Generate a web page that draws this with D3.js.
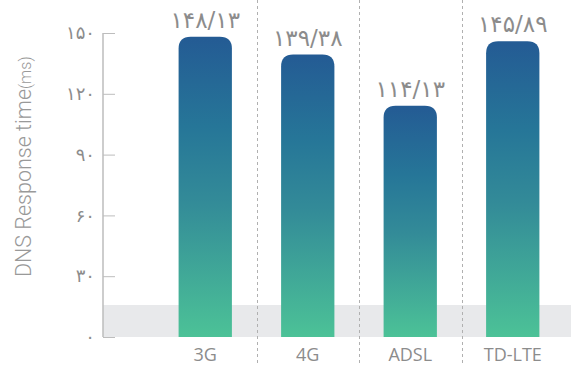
<!DOCTYPE html>
<html>
<head>
<meta charset="utf-8">
<script src="https://cdn.jsdelivr.net/npm/d3@7"></script>
<style>
  html, body { margin: 0; padding: 0; background: #fff; }
  svg { display: block; }
</style>
</head>
<body>
<svg id="chart" width="571" height="365"></svg>
<script>
const categories = ["3G", "4G", "ADSL", "TD-LTE"];
const values = [148.13, 139.38, 114.13, 145.89];
const valueLabels = ["۱۴۸/۱۳", "۱۳۹/۳۸", "۱۱۴/۱۳", "۱۴۵/۸۹"];
const tickValues = [0, 30, 60, 90, 120, 150];
const tickLabels = ["۰", "۳۰", "۶۰", "۹۰", "۱۲۰", "۱۵۰"];
const bandMax = 15.8;
const yTitle = "DNS Response time";
const yTitleUnit = "(ms)";

const W = 571, H = 365;
const svg = d3.select("#chart");

const y = d3.scaleLinear().domain([0, 150]).range([337, 33]);
const x = d3.scaleBand().domain(categories).range([154, 564]).paddingInner(0.48).paddingOuter(0.24);

// gradient
const defs = svg.append("defs");
const grad = defs.append("linearGradient").attr("id", "barGrad")
  .attr("x1", 0).attr("y1", 0).attr("x2", 0).attr("y2", 1);
grad.append("stop").attr("offset", "0%").attr("stop-color", "#245b94");
grad.append("stop").attr("offset", "30%").attr("stop-color", "#267698");
grad.append("stop").attr("offset", "55%").attr("stop-color", "#338b98");
grad.append("stop").attr("offset", "100%").attr("stop-color", "#4cc297");

// gray band
svg.append("rect")
  .attr("x", 103).attr("width", W - 103)
  .attr("y", y(bandMax)).attr("height", y(0) - y(bandMax))
  .attr("fill", "#e8e9eb");

// dashed separators
const step = x.step();
svg.append("g").selectAll("line")
  .data(categories.slice(1))
  .join("line")
  .attr("x1", d => Math.round(x(d) - step * x.paddingInner() / 2) + 0.5)
  .attr("x2", d => Math.round(x(d) - step * x.paddingInner() / 2) + 0.5)
  .attr("y1", 0).attr("y2", H)
  .attr("stroke", "#b0b0b0").attr("stroke-width", 1)
  .attr("stroke-dasharray", "3,3");

// bars with rounded top corners
const r = 12;
function barPath(x0, w, yt, yb) {
  return `M${x0},${yb} L${x0},${yt + r} Q${x0},${yt} ${x0 + r},${yt} L${x0 + w - r},${yt} Q${x0 + w},${yt} ${x0 + w},${yt + r} L${x0 + w},${yb} Z`;
}
svg.append("g").selectAll("path")
  .data(categories)
  .join("path")
  .attr("d", (d, i) => barPath(x(d), x.bandwidth(), y(values[i]), y(0)))
  .attr("fill", "url(#barGrad)");

// value labels
svg.append("g").selectAll("text")
  .data(categories)
  .join("text")
  .attr("x", d => x(d) + x.bandwidth() / 2)
  .attr("y", (d, i) => y(values[i]) - 9)
  .attr("text-anchor", "middle")
  .attr("font-family", "'DejaVu Sans', sans-serif")
  .attr("font-size", 23)
  .attr("fill", "#8c8c8c")
  .text((d, i) => valueLabels[i]);

// y axis
const yAxis = d3.axisLeft(y).tickValues(tickValues).tickSize(-12).tickPadding(8)
  .tickFormat((d, i) => tickLabels[i]);
const gy = svg.append("g").attr("transform", "translate(103,0)").call(yAxis);
gy.select(".domain").attr("stroke", "#bdbdbd").attr("stroke-width", 1.5).attr("d", `M0,${y(150)}V${y(0)}`);
gy.selectAll(".tick line").attr("stroke", "#bdbdbd").attr("stroke-width", 1);
gy.selectAll(".tick text")
  .attr("x", -8)
  .attr("font-family", "'DejaVu Sans', sans-serif")
  .attr("font-size", 18)
  .attr("fill", "#8c8c8c");

// x labels
const xAxis = d3.axisBottom(x).tickSize(0).tickPadding(0);
const gx = svg.append("g").attr("transform", `translate(0,${y(0)})`).call(xAxis);
gx.select(".domain").remove();
gx.selectAll(".tick text")
  .attr("y", 24)
  .attr("dy", 0)
  .attr("font-family", "'Open Sans', sans-serif")
  .attr("font-size", 18)
  .attr("fill", "#8c8c8c");

// y title
const t = svg.append("text")
  .attr("transform", "translate(31,277) rotate(-90)")
  .attr("text-anchor", "start")
  .attr("font-family", "Roboto, sans-serif")
  .attr("font-weight", 300)
  .attr("font-size", 21.5)
  .attr("fill", "#999");
t.append("tspan").text(yTitle);
t.append("tspan").attr("font-size", 16).text(yTitleUnit);
</script>
</body>
</html>
